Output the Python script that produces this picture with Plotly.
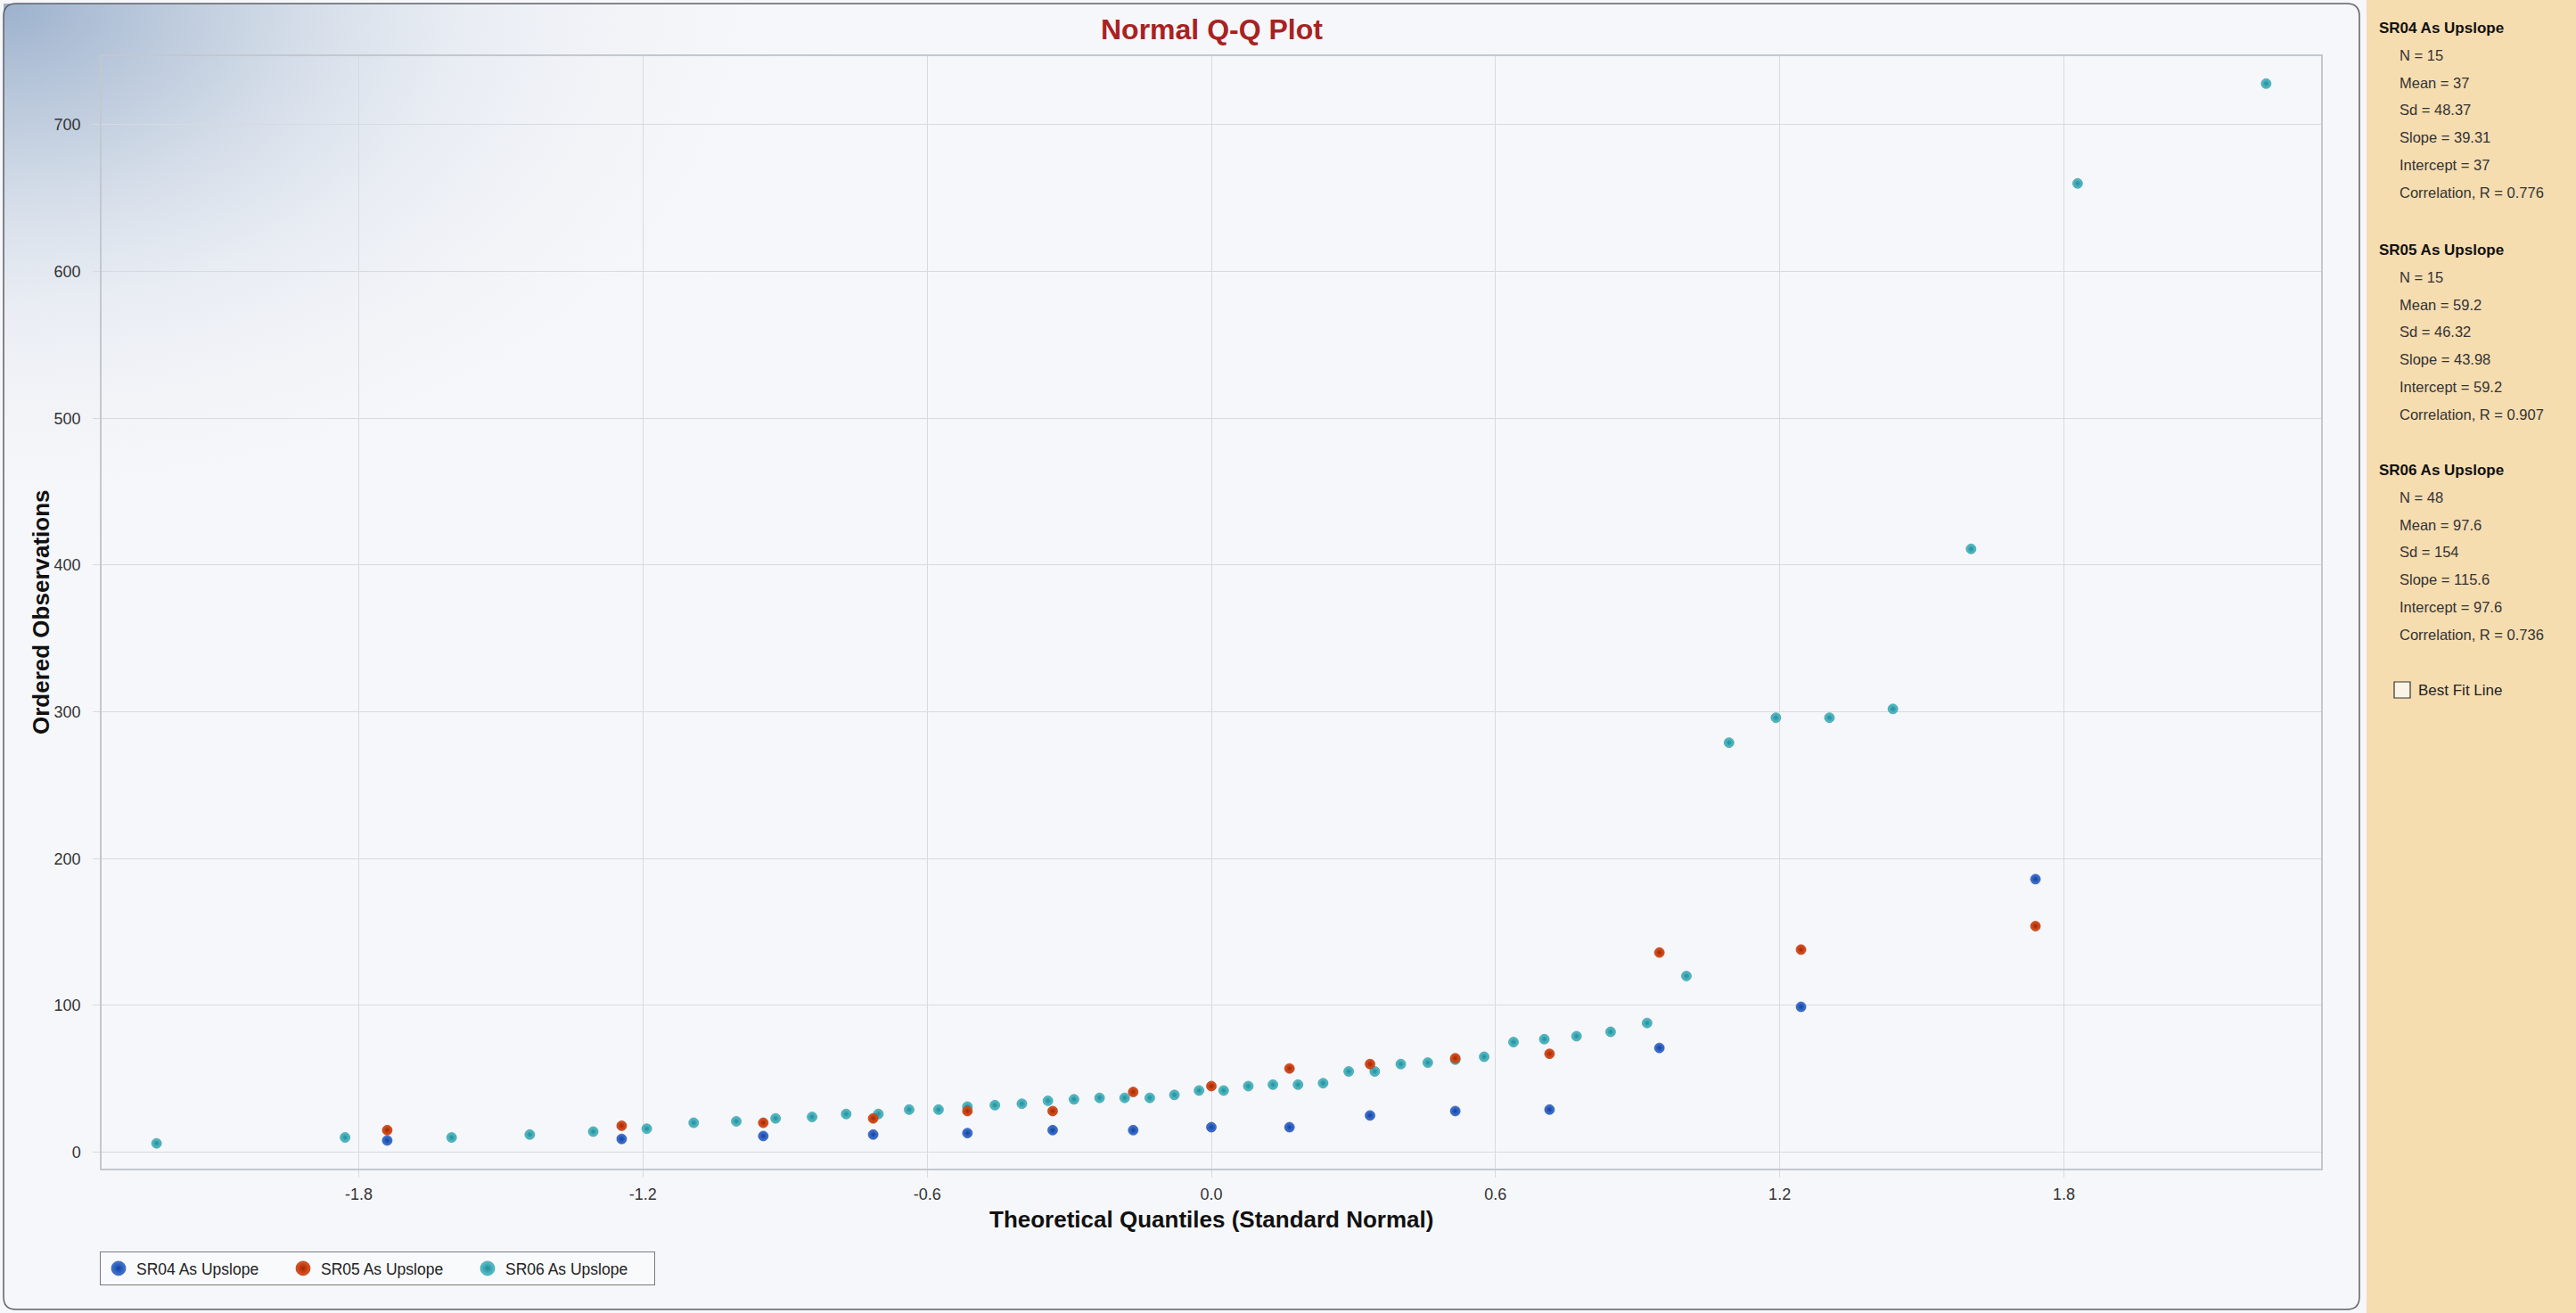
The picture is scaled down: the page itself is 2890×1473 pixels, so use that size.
import base64
import plotly.graph_objects as go

# ---- data -------------------------------------------------------------
series_names = ["SR04 As Upslope", "SR05 As Upslope", "SR06 As Upslope"]

# theoretical normal quantiles (x) for the 15- and 48-sample series
quantiles_n15 = [-1.74, -1.245, -0.946, -0.714, -0.515, -0.335, -0.165, 0.0,
                 0.165, 0.335, 0.515, 0.714, 0.946, 1.245, 1.74]
quantiles_n48 = [-2.227, -1.829, -1.604, -1.439, -1.305, -1.192, -1.093, -1.003,
                 -0.920, -0.843, -0.771, -0.703, -0.638, -0.576, -0.515, -0.457,
                 -0.400, -0.345, -0.290, -0.236, -0.183, -0.130, -0.078, -0.026,
                 0.026, 0.078, 0.130, 0.183, 0.236, 0.290, 0.345, 0.400,
                 0.457, 0.515, 0.576, 0.638, 0.703, 0.771, 0.843, 0.920,
                 1.003, 1.093, 1.192, 1.305, 1.439, 1.604, 1.829, 2.227]

# ordered observations
sr04_obs = [8, 9, 11, 12, 13, 15, 15, 17, 17, 25, 28, 29, 71, 99, 186]
sr05_obs = [15, 18, 20, 23, 28, 28, 41, 45, 57, 60, 64, 67, 136, 138, 154]
sr06_obs = [6, 10, 10, 12, 14, 16, 20, 21, 23, 24, 26, 26, 29, 29, 31, 32,
            33, 35, 36, 37, 37, 37, 39, 42, 42, 45, 46, 46, 47, 55, 55, 60,
            61, 63, 65, 75, 77, 79, 82, 88, 120, 279, 296, 296, 302, 411, 660, 728]

x_tick_vals = [-1.8, -1.2, -0.6, 0.0, 0.6, 1.2, 1.8]
x_tick_text = ["-1.8", "-1.2", "-0.6", "0.0", "0.6", "1.2", "1.8"]
y_tick_vals = [0, 100, 200, 300, 400, 500, 600, 700]

# summary statistics shown in the side panel
stats_sr04 = ["N = 15", "Mean = 37", "Sd = 48.37", "Slope = 39.31",
              "Intercept = 37", "Correlation, R = 0.776"]
stats_sr05 = ["N = 15", "Mean = 59.2", "Sd = 46.32", "Slope = 43.98",
              "Intercept = 59.2", "Correlation, R = 0.907"]
stats_sr06 = ["N = 48", "Mean = 97.6", "Sd = 154", "Slope = 115.6",
              "Intercept = 97.6", "Correlation, R = 0.736"]

# ---- geometry (pixels) -------------------------------------------------
W, H = 2890, 1473
PL, PR, PT, PB = 114, 2604, 63, 1311          # plot area edges
FONT = "Liberation Sans, Arial, sans-serif"


def px(X):
    return (X - PL) / (PR - PL)


def py(Y):
    return (PB - Y) / (PB - PT)


# marker styles: centre colour, edge colour
styles = {
    "SR04 As Upslope": ("#3F7BDA", "#173F9C"),
    "SR05 As Upslope": ("#E4571F", "#A12705"),
    "SR06 As Upslope": ("#5CC3CE", "#208C98"),
}

fig = go.Figure()

# draw order: SR06 underneath, then SR04, then SR05 on top
draw = [("SR06 As Upslope", quantiles_n48, sr06_obs),
        ("SR04 As Upslope", quantiles_n15, sr04_obs),
        ("SR05 As Upslope", quantiles_n15, sr05_obs)]
for name, xs, ys in draw:
    c, e = styles[name]
    fig.add_trace(go.Scatter(
        x=xs, y=ys, mode="markers", name=name, showlegend=False,
        marker=dict(size=11, color=c, gradient=dict(type="radial", color=e),
                    line=dict(width=0.6, color=e)),
        hovertemplate="%{x:.3f}, %{y}<extra>" + name + "</extra>"))

# legend entries
for name in series_names:
    c, e = styles[name]
    fig.add_trace(go.Scatter(
        x=[None], y=[None], mode="markers", name=name,
        marker=dict(size=16, color=c, gradient=dict(type="radial", color=e),
                    line=dict(width=0.6, color=e))))

# background gradient in the top-left corner
GW, GH = 950, 620
svg = (
    f'<svg xmlns="http://www.w3.org/2000/svg" width="{GW}" height="{GH}">'
    '<defs><radialGradient id="g" cx="0" cy="0" r="1" '
    'gradientUnits="objectBoundingBox">'
    '<stop offset="0" stop-color="#9CB1CD" stop-opacity="1"/>'
    '<stop offset="0.25" stop-color="#BCCADC" stop-opacity="0.85"/>'
    '<stop offset="0.55" stop-color="#DCE3ED" stop-opacity="0.5"/>'
    '<stop offset="1" stop-color="#F6F7FA" stop-opacity="0"/>'
    '</radialGradient></defs>'
    f'<rect width="{GW}" height="{GH}" fill="url(#g)"/></svg>'
)
svg_uri = "data:image/svg+xml;base64," + base64.b64encode(svg.encode()).decode()

images = [dict(source=svg_uri, xref="paper", yref="paper",
               x=px(4), y=py(4), sizex=GW / (PR - PL), sizey=GH / (PB - PT),
               xanchor="left", yanchor="top", sizing="stretch", layer="below")]

# rounded outer frame
fx0, fy0, fx1, fy1, r = 4, 4, 2647, 1469, 14
frame_path = (
    f"M {px(fx0 + r)},{py(fy0)} L {px(fx1 - r)},{py(fy0)} "
    f"Q {px(fx1)},{py(fy0)} {px(fx1)},{py(fy0 + r)} "
    f"L {px(fx1)},{py(fy1 - r)} Q {px(fx1)},{py(fy1)} {px(fx1 - r)},{py(fy1)} "
    f"L {px(fx0 + r)},{py(fy1)} Q {px(fx0)},{py(fy1)} {px(fx0)},{py(fy1 - r)} "
    f"L {px(fx0)},{py(fy0 + r)} Q {px(fx0)},{py(fy0)} {px(fx0 + r)},{py(fy0)} Z"
)

shapes = [
    # side panel
    dict(type="rect", xref="paper", yref="paper", x0=px(2655), x1=px(2890),
         y0=py(0), y1=py(H), fillcolor="#F6DDB0", line=dict(width=0), layer="below"),
    dict(type="path", xref="paper", yref="paper", path=frame_path,
         line=dict(color="#5E6166", width=1.5), fillcolor="rgba(0,0,0,0)", layer="above"),
    # "Best Fit Line" checkbox
    dict(type="rect", xref="paper", yref="paper", x0=px(2686), x1=px(2704),
         y0=py(783), y1=py(765), fillcolor="#FBF4E6",
         line=dict(color="#333333", width=1.2)),
]

annotations = [
    dict(text="<b>Normal Q-Q Plot</b>", xref="paper", yref="paper",
         x=0.5, y=py(33), xanchor="center", yanchor="middle", showarrow=False,
         font=dict(family=FONT, size=32, color="#A82222")),
    dict(text="<b>Theoretical Quantiles (Standard Normal)</b>", xref="paper",
         yref="paper", x=0.5, y=py(1368), xanchor="center", yanchor="middle",
         showarrow=False, font=dict(family=FONT, size=26, color="#111111")),
    dict(text="<b>Ordered Observations</b>", xref="paper", yref="paper",
         x=px(46), y=0.5, xanchor="center", yanchor="middle", textangle=-90,
         showarrow=False, font=dict(family=FONT, size=26, color="#111111")),
    dict(text="Best Fit Line", xref="paper", yref="paper", x=px(2711), y=py(774),
         xanchor="left", yanchor="middle", showarrow=False,
         font=dict(family=FONT, size=17, color="#222222")),
]

# side panel statistics
blocks = [("SR04 As Upslope", stats_sr04, 31),
          ("SR05 As Upslope", stats_sr05, 280),
          ("SR06 As Upslope", stats_sr06, 527)]
for head, lines, y0 in blocks:
    annotations.append(dict(
        text="<b>" + head + "</b>", xref="paper", yref="paper", x=px(2667),
        y=py(y0), xanchor="left", yanchor="middle", showarrow=False,
        font=dict(family=FONT, size=17, color="#111111")))
    for k, line in enumerate(lines):
        annotations.append(dict(
            text=line, xref="paper", yref="paper", x=px(2690),
            y=py(y0 + 30.8 * (k + 1)), xanchor="left", yanchor="middle",
            showarrow=False, font=dict(family=FONT, size=16.5, color="#333333")))

axis_common = dict(
    showgrid=True, gridcolor="#D6DBE2", gridwidth=1,
    showline=True, linecolor="#C3C8CE", linewidth=1.5, mirror=True,
    zeroline=False, ticks="outside", ticklen=8, tickcolor="#D6DBE2",
    tickfont=dict(family=FONT, size=18, color="#333333"),
)

fig.update_layout(
    width=W, height=H, autosize=False,
    margin=dict(l=PL, r=W - PR, t=PT, b=H - PB, pad=0),
    paper_bgcolor="#F6F7FA", plot_bgcolor="rgba(0,0,0,0)",
    xaxis=dict(range=[-2.343, 2.343], tickvals=x_tick_vals, ticktext=x_tick_text,
               ticklabelstandoff=4, **axis_common),
    yaxis=dict(range=[-11.2, 746.7], tickvals=y_tick_vals,
               ticklabelstandoff=10, **axis_common),
    showlegend=True,
    legend=dict(orientation="h", x=px(112), y=py(1404), xanchor="left", yanchor="top",
                bgcolor="#F9FAFC", bordercolor="#7A7A7A", borderwidth=1,
                font=dict(family=FONT, size=17.5, color="#222222"),
                entrywidth=162, entrywidthmode="pixels", itemsizing="trace"),
    shapes=shapes, annotations=annotations, images=images,
    hovermode="closest",
)

fig.write_html("out.html")
